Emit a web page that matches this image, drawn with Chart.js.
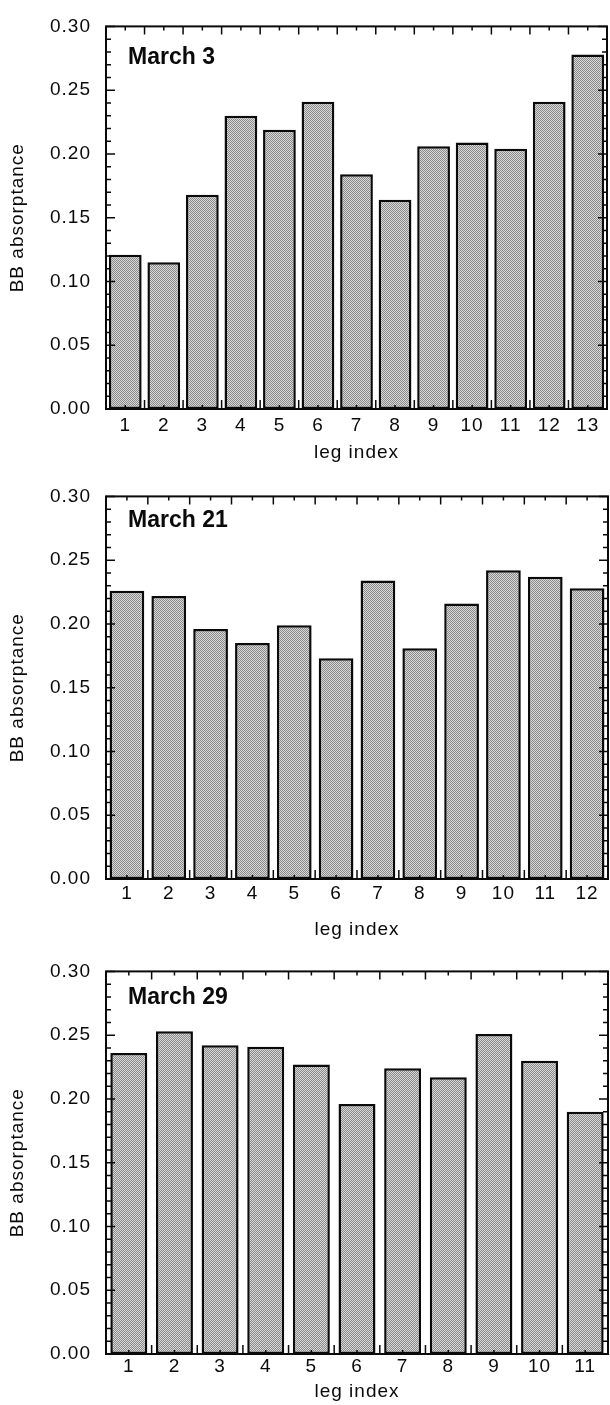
<!DOCTYPE html>
<html>
<head>
<meta charset="utf-8">
<script src="https://cdn.jsdelivr.net/npm/chart.js@4/dist/chart.umd.min.js"></script>
<style>
  html, body { margin: 0; padding: 0; background: #fff; }
  .panel { position: absolute; left: 0; width: 610px; }
</style>
</head>
<body>
<div class="panel" style="top:0;height:470px"><canvas id="chart1"></canvas></div>
<div class="panel" style="top:470px;height:475px"><canvas id="chart2"></canvas></div>
<div class="panel" style="top:945px;height:460px"><canvas id="chart3"></canvas></div>
<script>
// leg index categories for each day
const legs13 = ['1', '2', '3', '4', '5', '6', '7', '8', '9', '10', '11', '12', '13'];
const legs12 = ['1', '2', '3', '4', '5', '6', '7', '8', '9', '10', '11', '12'];
const legs11 = ['1', '2', '3', '4', '5', '6', '7', '8', '9', '10', '11'];

// BB absorptance per leg
const march3 = [0.121, 0.115, 0.168, 0.230, 0.219, 0.241, 0.184, 0.164, 0.206, 0.209, 0.204, 0.241, 0.278];
const march21 = [0.226, 0.222, 0.196, 0.185, 0.199, 0.173, 0.234, 0.181, 0.216, 0.242, 0.237, 0.228];
const march29 = [0.236, 0.253, 0.242, 0.241, 0.227, 0.196, 0.224, 0.217, 0.251, 0.230, 0.190];

const dayNames = ['March 3', 'March 21', 'March 29'];
const yMin = 0.0;
const yMax = 0.30;
const yStep = 0.05;
const yMinorStep = 0.01;

const ink = '#0a0a0a';
const tickFont = { family: '"Liberation Sans", Arial, sans-serif', size: 19 };

// stippled grey fill like the printed figure
function makeStipple() {
    const c = document.createElement('canvas');
    c.width = 2; c.height = 2;
    const g = c.getContext('2d');
    g.fillStyle = '#d8d8d8';
    g.fillRect(0, 0, 2, 2);
    g.fillStyle = '#8a8a8a';
    g.fillRect(0, 0, 1, 1);
    g.fillRect(1, 1, 1, 1);
    return g.createPattern(c, 'repeat');
}
const stipple = makeStipple();

// frame with inward ticks on all four sides + the day label
const framePlugin = {
    id: 'frame',
    beforeDraw(chart) {
        chart.ctx.letterSpacing = '1px';
    },
    afterDatasetsDraw(chart, args, opts) {
        const { ctx, chartArea: a, scales: { x, y } } = chart;
        ctx.save();
        ctx.strokeStyle = ink;
        ctx.lineWidth = 1.5;
        ctx.beginPath();
        const nMinor = Math.round((yMax - yMin) / yMinorStep);
        const perMajor = Math.round(yStep / yMinorStep);
        for (let k = 0; k <= nMinor; k++) {
            const py = y.getPixelForValue(yMin + k * yMinorStep);
            const len = k % perMajor === 0 ? 9 : 5;
            ctx.moveTo(a.left, py); ctx.lineTo(a.left + len, py);
            ctx.moveTo(a.right, py); ctx.lineTo(a.right - len, py);
        }
        const n = chart.data.labels.length;
        const half = (a.right - a.left) / n / 2;
        for (let i = 0; i < n; i++) {
            const c = x.getPixelForValue(i);
            ctx.moveTo(c, a.top); ctx.lineTo(c, a.top + 4);
            ctx.moveTo(c, a.bottom); ctx.lineTo(c, a.bottom - 4);
            if (i > 0) {
                ctx.moveTo(c - half, a.top); ctx.lineTo(c - half, a.top + 8);
                ctx.moveTo(c - half, a.bottom); ctx.lineTo(c - half, a.bottom - 9);
            }
        }
        ctx.stroke();
        ctx.lineWidth = 2;
        ctx.strokeRect(a.left, a.top, a.right - a.left, a.bottom - a.top);

        ctx.letterSpacing = '0px';
        ctx.fillStyle = ink;
        ctx.font = 'bold 23px "Liberation Sans", Arial, sans-serif';
        ctx.textBaseline = 'middle';
        ctx.fillText(opts.text, a.left + 22, a.top + opts.labelDy);
        ctx.restore();
    }
};

function makePanel(id, labels, values, day, p) {
    return new Chart(document.getElementById(id), {
        type: 'bar',
        data: {
            labels: labels,
            datasets: [{
                data: values,
                backgroundColor: stipple,
                borderColor: ink,
                borderWidth: 2.5,
                borderSkipped: false,
                barPercentage: p.bar,
                categoryPercentage: 1
            }]
        },
        options: {
            responsive: true,
            maintainAspectRatio: false,
            animation: false,
            layout: { padding: { top: 21, right: p.right, left: 0, bottom: 0 } },
            scales: {
                x: {
                    grid: { display: false, drawTicks: false },
                    border: { display: false },
                    ticks: { font: tickFont, color: ink, padding: p.labelPad, maxRotation: 0, autoSkip: false },
                    title: { display: true, text: 'leg index', font: tickFont, color: ink, padding: { top: 0, bottom: p.titlePad } },
                    afterFit: scale => { scale.height = p.axisH; }
                },
                y: {
                    min: yMin,
                    max: yMax,
                    grid: { display: false, drawTicks: false },
                    border: { display: false },
                    ticks: { stepSize: yStep, padding: 15, font: tickFont, color: ink, callback: v => v.toFixed(2) },
                    title: { display: true, text: 'BB absorptance', font: tickFont, color: ink, padding: { top: 6, bottom: 0 } },
                    afterFit: scale => { scale.width = 106; }
                }
            },
            plugins: {
                legend: { display: false },
                tooltip: { enabled: false },
                frame: { text: day, labelDy: p.labelDy }
            }
        },
        plugins: [framePlugin]
    });
}

makePanel('chart1', legs13, march3, dayNames[0], { bar: 0.85, right: 3, axisH: 61, labelPad: 5, titlePad: 6, labelDy: 31 });
makePanel('chart2', legs12, march21, dayNames[1], { bar: 0.83, right: 2, axisH: 66, labelPad: 3, titlePad: 4, labelDy: 24 });
makePanel('chart3', legs11, march29, dayNames[2], { bar: 0.81, right: 2, axisH: 51, labelPad: 1, titlePad: 2, labelDy: 26 });
</script>
</body>
</html>
